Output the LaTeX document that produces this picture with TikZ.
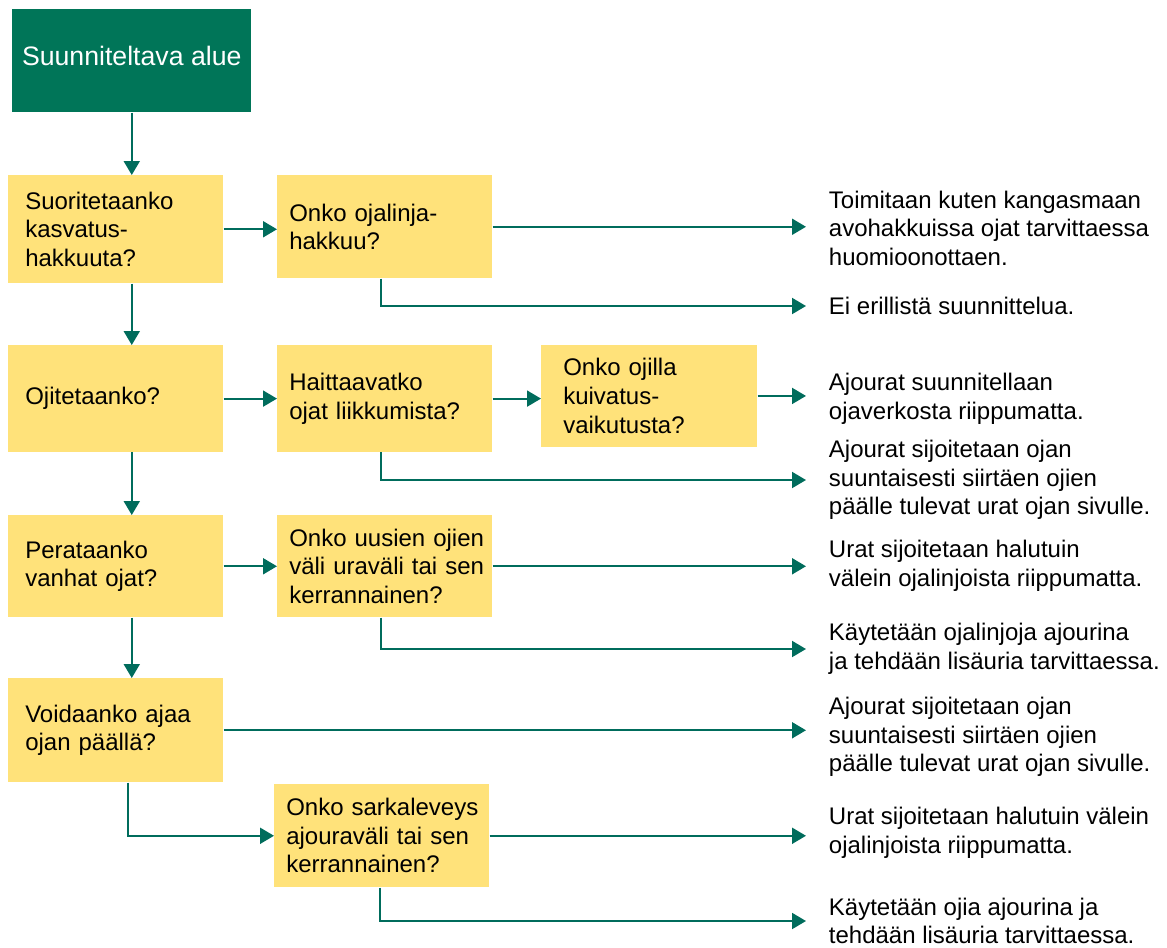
\documentclass[tikz,border=0pt]{standalone}
\usepackage{fontspec}
\setmainfont{Liberation Sans}
\usepackage{tikz}
\usetikzlibrary{arrows.meta}

\definecolor{boxgreen}{RGB}{0,117,88}
\definecolor{flowteal}{RGB}{0,108,92}
\definecolor{boxyellow}{RGB}{255,226,122}

\tikzset{
  qbox/.style={fill=boxyellow, anchor=north west, align=left, inner ysep=0pt,
    font=\fontsize{18}{21.4}\selectfont},
  leftq/.style={qbox, inner xsep=12.75pt, text width=135.75pt},
  midq/.style={qbox, inner xsep=9pt, text width=143.25pt},
  outtext/.style={anchor=west, align=left, inner xsep=17pt, inner ysep=0pt,
    font=\fontsize{18}{21.4}\selectfont},
  flow/.style={draw=flowteal, line width=1.5pt, -{Triangle[length=10.5pt,width=12pt]}}
}

\begin{document}
\begin{tikzpicture}[x=0.75pt,y=0.75pt,yscale=-1,xscale=1]
\useasboundingbox (0,0) rectangle (1167,947);

%Shape: Rectangle [start]
\node (top) [anchor=north west, fill=boxgreen, text=white, minimum width=179.25pt, minimum height=77.25pt, inner sep=0pt, text height=14pt, text depth=7.5pt, font=\fontsize{20}{24}\selectfont] at (12,9) {Suunniteltava alue};

%Shape: Rectangles [left column]
\node (kasv) [leftq, minimum height=81pt] at (8,175) {Suoritetaanko\\kasvatus-\\hakkuuta?};
\node (ojit) [leftq, minimum height=80pt] at (8,345) {Ojitetaanko?};
\node (perat) [leftq, minimum height=76.5pt] at (8,515) {Perataanko\\vanhat ojat?};
\node (ajaa) [leftq, minimum height=78pt] at (8,678) {Voidaanko ajaa\\ojan päällä?};

%Shape: Rectangles [middle column]
\node (linja) [midq, minimum height=77.25pt] at (277,175) {Onko ojalinja-\\hakkuu?};
\node (haitta) [midq, minimum height=80pt] at (277,345) {Haittaavatko\\ojat liikkumista?};
\node (kuiv) [qbox, inner xsep=16.5pt, text width=129pt, minimum height=76pt] at (541,345) {Onko ojilla\\kuivatus-\\vaikutusta?};
\node (uudet) [midq, minimum height=76.5pt] at (277,515) {\mbox{Onko uusien ojien}\\\mbox{väli uraväli tai sen}\\\mbox{kerrannainen?}};
\node (sarka) [midq, minimum height=77.25pt] at (274,784) {\mbox{Onko sarkaleveys}\\\mbox{ajouraväli tai sen}\\\mbox{kerrannainen?}};

% Text Node
\node (kangas) [outtext] at (806,228) {Toimitaan kuten kangasmaan\\avohakkuissa ojat tarvittaessa\\huomioonottaen.};
% Text Node
\node (eiers) [outtext] at (806,306) {Ei erillistä suunnittelua.};
% Text Node
\node (riipp) [outtext] at (806,399) {Ajourat suunnitellaan\\ojaverkosta riippumatta.};
% Text Node
\node (siirto) [outtext] at (806,480) {Ajourat sijoitetaan ojan\\suuntaisesti siirtäen ojien\\päälle tulevat urat ojan sivulle.};
% Text Node
\node (halut) [outtext] at (806,566) {Urat sijoitetaan halutuin\\välein ojalinjoista riippumatta.};
% Text Node
\node (linjat) [outtext] at (806,649) {Käytetään ojalinjoja ajourina\\ja tehdään lisäuria tarvittaessa.};
% Text Node
\node (siirto2) [outtext] at (806,737) {Ajourat sijoitetaan ojan\\suuntaisesti siirtäen ojien\\päälle tulevat urat ojan sivulle.};
% Text Node
\node (halut2) [outtext] at (806,833) {Urat sijoitetaan halutuin välein\\ojalinjoista riippumatta.};
% Text Node
\node (ojat) [outtext] at (806,921) {Käytetään ojia ajourina ja\\tehdään lisäuria tarvittaessa.};

%Straight Lines [down the left column]
\draw [flow] (top.south) -- (top.south |- kasv.north);
\draw [flow] (kasv.south -| top.south) -- (ojit.north -| top.south);
\draw [flow] (ojit.south -| top.south) -- (perat.north -| top.south);
\draw [flow] (perat.south -| top.south) -- (ajaa.north -| top.south);
\draw [flow] ([xshift=-3]ajaa.south -| top.south) |- (sarka.west);

%Straight Lines [to the right]
\draw [flow] (kasv.east) -- (kasv.east -| linja.west);
\draw [flow] (linja.east) -- (linja.east -| kangas.west);
\draw [flow] ([xshift=-3]linja.south) |- (eiers.west);
\draw [flow] (ojit.east) -- (ojit.east -| haitta.west);
\draw [flow] (haitta.east) -- (haitta.east -| kuiv.west);
\draw [flow] (kuiv.east) -- (kuiv.east -| riipp.west);
\draw [flow] ([xshift=-3]haitta.south) |- (siirto.west);
\draw [flow] (perat.east) -- (perat.east -| uudet.west);
\draw [flow] (uudet.east) -- (uudet.east -| halut.west);
\draw [flow] ([xshift=-3]uudet.south) |- (linjat.west);
\draw [flow] (ajaa.east) -- (ajaa.east -| siirto2.west);
\draw [flow] (sarka.east) -- (sarka.east -| halut2.west);
\draw [flow] ([xshift=-1]sarka.south) |- (ojat.west);

\end{tikzpicture}
\end{document}
